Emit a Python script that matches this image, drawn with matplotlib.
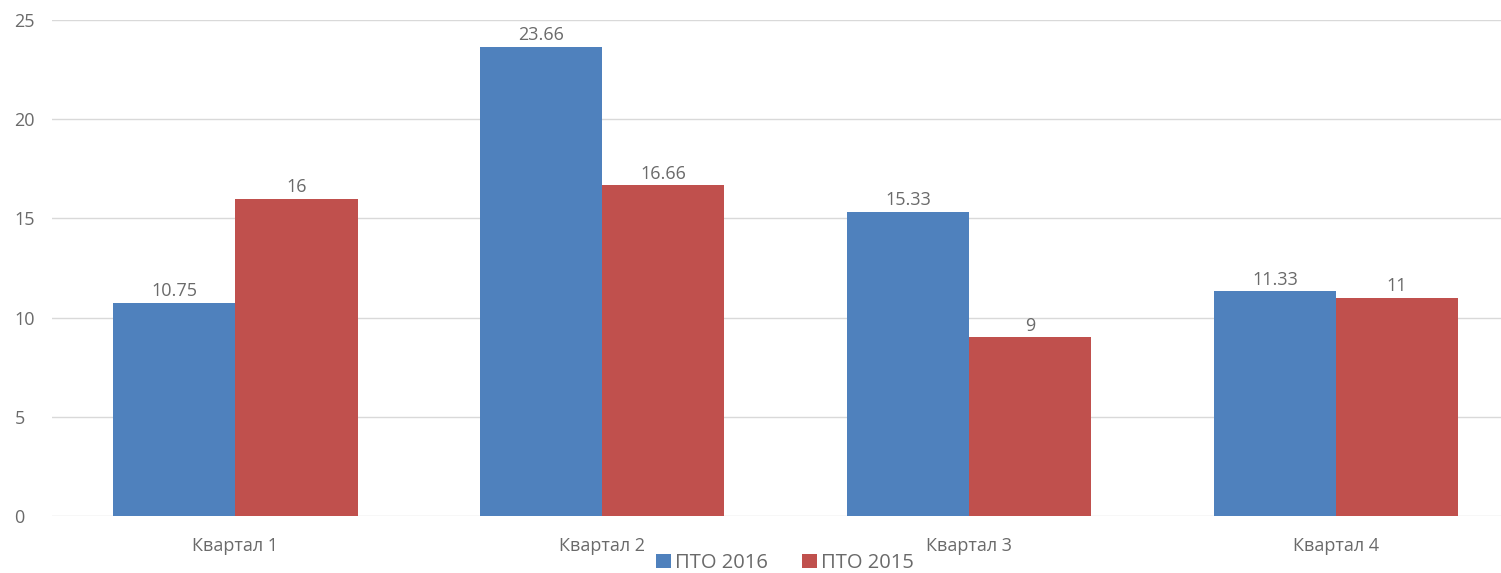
import numpy as np
import matplotlib
matplotlib.use('Agg')
import matplotlib.pyplot as plt

plt.rcParams['font.family'] = ['Open Sans', 'DejaVu Sans']

categories = ['Квартал 1', 'Квартал 2', 'Квартал 3', 'Квартал 4']
pto_2016 = [10.75, 23.66, 15.33, 11.33]
pto_2015 = [16, 16.66, 9, 11]
labels_2016 = ['10.75', '23.66', '15.33', '11.33']
labels_2015 = ['16', '16.66', '9', '11']

blue = '#4F81BD'
red = '#C0504D'
txt = '#6a6a6a'

fig = plt.figure(figsize=(15.01, 5.73), dpi=100)
ax = fig.add_axes([52 / 1501, 1 - 516 / 573, 1 - 52 / 1501, (516 - 20) / 573])

x = np.arange(len(categories))
w = 0.333
b1 = ax.bar(x - w / 2, pto_2016, w, color=blue, label='ПТО 2016', zorder=3)
b2 = ax.bar(x + w / 2, pto_2015, w, color=red, label='ПТО 2015', zorder=3)

for rect, s in zip(b1, labels_2016):
    ax.text(rect.get_x() + rect.get_width() / 2, rect.get_height() + 0.12, s,
            ha='center', va='bottom', fontsize=13, color=txt)
for rect, s in zip(b2, labels_2015):
    ax.text(rect.get_x() + rect.get_width() / 2, rect.get_height() + 0.12, s,
            ha='center', va='bottom', fontsize=13, color=txt)

ax.set_xlim(-0.5, 3.45)
ax.set_ylim(0, 25)
ax.set_yticks([0, 5, 10, 15, 20, 25])
ax.set_xticks(x)
ax.set_xticklabels(categories)
ax.tick_params(axis='both', length=0, labelsize=13, colors=txt)
ax.tick_params(axis='y', pad=27)
ax.tick_params(axis='x', pad=15)
for lab in ax.get_yticklabels():
    lab.set_horizontalalignment('left')
ax.yaxis.grid(True, color='#d9d9d9', linewidth=1, zorder=0)
for sp in ax.spines.values():
    sp.set_visible(False)

fig.legend(handles=[b1, b2], loc='center', bbox_to_anchor=(785 / 1501, 1 - 563 / 573),
           ncol=2, frameon=False, fontsize=14.5, handlelength=0.75, handleheight=0.75,
           handletextpad=0.2, columnspacing=1.7, labelcolor=txt,
           borderpad=0, borderaxespad=0)

fig.savefig('out.png', dpi=100)
